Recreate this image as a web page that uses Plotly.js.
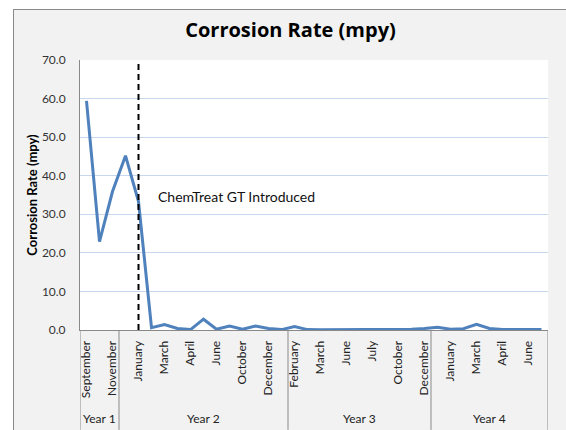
<!DOCTYPE html>
<html><head><meta charset="utf-8">
<script src="https://cdn.plot.ly/plotly-3.0.1.min.js"></script>
<style>
html,body{margin:0;padding:0;background:#fff;overflow:hidden;width:566px;height:430px}
#wrap{position:absolute;left:13px;top:9px;width:553px;height:421px;border-left:1px solid #898989;border-top:1px solid #898989;background:#f2f2f2}
#chart{width:553px;height:421px}
</style></head><body><div id="wrap"><div id="chart"></div></div>
<script>
// ---- data ----
const years = ["Year 1", "Year 2", "Year 3", "Year 4"];
const year1Months = ["September", "October", "November"];
const year2Months = ["January", "January", "February", "March", "March", "April", "May", "June", "August", "October", "November", "December", "December"];
const year3Months = ["February", "March", "March", "May", "June", "July", "July", "September", "October", "November", "December"];
const year4Months = ["January", "January", "February", "March", "April", "April", "May", "June", "July"];
const year1Rates = [59.4, 22.9, 35.9];
const year2Rates = [45.2, 33.3, 0.6, 1.4, 0.4, 0.1, 2.8, 0.2, 1.0, 0.2, 1.0, 0.4, 0.1];
const year3Rates = [0.9, 0.1, 0.05, 0.05, 0.05, 0.05, 0.05, 0.05, 0.05, 0.2, 0.4];
const year4Rates = [0.7, 0.2, 0.35, 1.5, 0.4, 0.1, 0.1, 0.1, 0.1];
const yTicks = [0, 10, 20, 30, 40, 50, 60, 70];
const introYear = 1;        // Year 2
const introMonthIndex = 1;  // "January" of Year 2
const introLabel = "ChemTreat GT Introduced";

// ---- build ----
const groups = [year1Months, year2Months, year3Months, year4Months];
const months = [].concat(...groups);
const rates = [].concat(year1Rates, year2Rates, year3Rates, year4Rates);
const idx = months.map((m, i) => i);
const tickvals = idx.filter(i => i % 2 === 0);
const ticktext = tickvals.map(i => months[i]);

const starts = [];
let acc = 0;
groups.forEach(g => { starts.push(acc); acc += g.length; });
const bounds = starts.concat([acc]).map(s => s - 0.5);
const introX = starts[introYear] + introMonthIndex;

const FONT = "Lato, 'Open Sans', sans-serif";
const gray = "#898989";
const shapes = bounds.map(b => ({
  type: "line", xref: "x", yref: "paper", x0: b, x1: b, y0: 0, y1: -0.37,
  line: {color: gray, width: 1}, layer: "above"
}));
shapes.push({
  type: "line", xref: "x", yref: "y", x0: introX, x1: introX, y0: 0, y1: 69.3,
  line: {color: "#000", width: 2, dash: "6px,4px"}, layer: "above"
});

const annotations = years.map((y, k) => ({
  text: y, xref: "x", yref: "paper", x: (bounds[k] + bounds[k + 1]) / 2, y: -0.326,
  xanchor: "center", yanchor: "middle", showarrow: false,
  font: {family: FONT, size: 12, color: "#222"}
}));
annotations.push({
  text: introLabel, xref: "x", yref: "y", x: introX, y: 34.5, xshift: 17,
  xanchor: "left", yanchor: "middle", showarrow: false,
  font: {family: FONT, size: 14, color: "#111"}
});

const trace = {
  x: idx, y: rates, type: "scatter", mode: "lines",
  line: {color: "#4f81bd", width: 3}, hoverinfo: "skip"
};

const layout = {
  width: 553, height: 421,
  margin: {l: 66, r: 19, t: 50, b: 101},
  paper_bgcolor: "#f2f2f2", plot_bgcolor: "#ffffff",
  showlegend: false,
  font: {family: FONT, color: "#222"},
  title: {
    text: "<b>Corrosion Rate (mpy)</b>", x: 0.5, xanchor: "center",
    y: 0.953, yanchor: "middle", yref: "container",
    font: {family: "'Open Sans', Lato, sans-serif", size: 20, color: "#000"}
  },
  xaxis: {
    type: "linear", range: [-0.5, acc - 0.5], tickmode: "array",
    tickvals: tickvals, ticktext: ticktext, tickangle: -90,
    showgrid: false, zeroline: false, showline: true, linecolor: gray, linewidth: 1,
    ticks: "", ticklabelstandoff: 5,
    tickfont: {family: FONT, size: 12, color: "#222"}
  },
  yaxis: {
    range: [0, 70], tickmode: "array", tickvals: yTicks,
    ticktext: yTicks.map(v => v.toFixed(1)),
    showgrid: true, gridcolor: "#c6d7ee", gridwidth: 1,
    zeroline: false, showline: true, linecolor: gray, linewidth: 1,
    ticks: "", ticklabelstandoff: 11,
    tickfont: {family: FONT, size: 12, color: "#333"},
    title: {text: "<b>Corrosion Rate (mpy)</b>", standoff: 1,
      font: {family: FONT, size: 13, color: "#000"}}
  },
  shapes: shapes,
  annotations: annotations
};

Plotly.newPlot("chart", [trace], layout, {displayModeBar: false, staticPlot: true});
</script>
</body></html>
